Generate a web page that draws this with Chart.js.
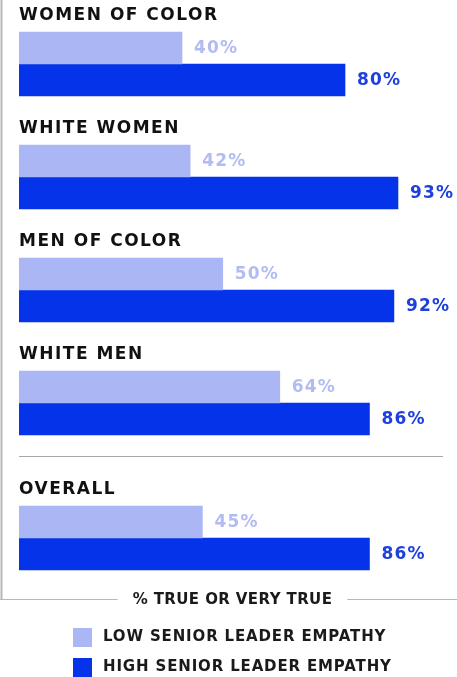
<!DOCTYPE html>
<html>
<head>
<meta charset="utf-8">
<script src="https://cdn.jsdelivr.net/npm/chart.js"></script>
<style>
  html, body { margin: 0; padding: 0; background: #fff; overflow: hidden; }
  #wrap { width: 457px; height: 677px; }
</style>
</head>
<body>
<div id="wrap"><canvas id="empathyChart" width="457" height="677"></canvas></div>
<script>
// data
const categories = ['WOMEN OF COLOR', 'WHITE WOMEN', 'MEN OF COLOR', 'WHITE MEN', 'OVERALL'];
const lowEmpathy = [40, 42, 50, 64, 45];
const highEmpathy = [80, 93, 92, 86, 86];
const seriesNames = ['LOW SENIOR LEADER EMPATHY', 'HIGH SENIOR LEADER EMPATHY'];
const axisTitle = '% TRUE OR VERY TRUE';

const lightBlue = '#abb6f5';
const darkBlue = '#0433e9';
const lightLabel = '#b3bcf2';
const darkLabel = '#1e40dc';
const font = '"DejaVu Sans", sans-serif';

// OVERALL sits a bit further down, below a separator line
const overallGap = 135 / 113 - 1;
function rowPos(i) {
    return categories[i] === 'OVERALL' ? i + overallGap : i;
}

function toPoints(values) {
    return values.map(function (v, i) { return { x: v, y: rowPos(i) }; });
}

function spaced(ctx, spacing) {
    if ('letterSpacing' in ctx) ctx.letterSpacing = spacing + 'px';
}

const decorPlugin = {
    id: 'decor',
    afterDatasetsDraw(chart) {
        const ctx = chart.ctx;
        const area = chart.chartArea;
        const lowMeta = chart.getDatasetMeta(0);

        ctx.save();
        // value labels
        ctx.font = 'bold 17px ' + font;
        spaced(ctx, 1.2);
        ctx.textBaseline = 'middle';
        ctx.textAlign = 'left';
        chart.data.datasets.forEach(function (ds, di) {
            const meta = chart.getDatasetMeta(di);
            meta.data.forEach(function (bar, i) {
                ctx.fillStyle = di === 0 ? lightLabel : darkLabel;
                ctx.fillText(ds.data[i].x + '%', bar.x + 12, bar.y + 1);
            });
        });

        // group titles above each pair of bars
        ctx.font = 'bold 17px ' + font;
        spaced(ctx, 1.5);
        ctx.textBaseline = 'alphabetic';
        ctx.fillStyle = '#111';
        lowMeta.data.forEach(function (bar, i) {
            const top = bar.y - bar.height / 2;
            ctx.fillText(categories[i], area.left, top - 12);
        });

        // separator above OVERALL
        const wm = chart.getDatasetMeta(1).data[3];
        const sepY = Math.round(wm.y + wm.height / 2 + 21) + 0.5;
        ctx.strokeStyle = '#a8a8a8';
        ctx.lineWidth = 1;
        ctx.beginPath();
        ctx.moveTo(area.left, sepY);
        ctx.lineTo(443, sepY);
        ctx.stroke();
        ctx.restore();
    },
    afterDraw(chart) {
        const ctx = chart.ctx;
        const area = chart.chartArea;
        const w = chart.width;
        ctx.save();

        // axis title with frame line broken around it
        const frameY = area.bottom - 0.5;
        ctx.font = 'bold 15px ' + font;
        spaced(ctx, 0.4);
        ctx.textBaseline = 'middle';
        ctx.textAlign = 'center';
        ctx.fillStyle = '#1a1a1a';
        const cx = 232.5;
        const tw = ctx.measureText(axisTitle).width;
        ctx.fillText(axisTitle, cx, frameY + 1);

        ctx.strokeStyle = '#b8b8b8';
        ctx.lineWidth = 2;
        ctx.beginPath();
        ctx.moveTo(1.5, 0);
        ctx.lineTo(1.5, frameY);
        ctx.stroke();
        ctx.lineWidth = 1;
        ctx.beginPath();
        ctx.moveTo(0, frameY);
        ctx.lineTo(cx - tw / 2 - 15, frameY);
        ctx.moveTo(cx + tw / 2 + 15, frameY);
        ctx.lineTo(w, frameY);
        ctx.stroke();

        // legend
        ctx.font = 'bold 15px ' + font;
        spaced(ctx, 0.85);
        ctx.textAlign = 'left';
        chart.data.datasets.forEach(function (ds, di) {
            const top = Math.round(628 + di * 29.5);
            ctx.fillStyle = ds.backgroundColor;
            ctx.fillRect(73, top, 19, 19);
            ctx.fillStyle = '#1a1a1a';
            ctx.fillText(seriesNames[di], 103, top + 9.5);
        });
        ctx.restore();
    }
};

const chartConfig = {
    type: 'bar',
    data: {
        datasets: [{
            label: seriesNames[0],
            data: toPoints(lowEmpathy),
            backgroundColor: lightBlue,
            barThickness: 32
        }, {
            label: seriesNames[1],
            data: toPoints(highEmpathy),
            backgroundColor: darkBlue,
            barThickness: 32
        }]
    },
    plugins: [decorPlugin],
    options: {
        indexAxis: 'y',
        responsive: false,
        animation: false,
        events: [],
        layout: {
            padding: { left: 19, right: 30.5, top: 0, bottom: 77 }
        },
        scales: {
            x: { type: 'linear', min: 0, max: 100, display: false },
            y: {
                type: 'linear',
                offset: false,
                reverse: true,
                min: -64 / 113,
                max: -64 / 113 + 600 / 113,
                display: false
            }
        },
        plugins: {
            legend: { display: false },
            tooltip: { enabled: false }
        }
    }
};

window.onload = function () {
    const ctx = document.getElementById('empathyChart').getContext('2d');
    window.myBar = new Chart(ctx, chartConfig);
};
</script>
</body>
</html>
